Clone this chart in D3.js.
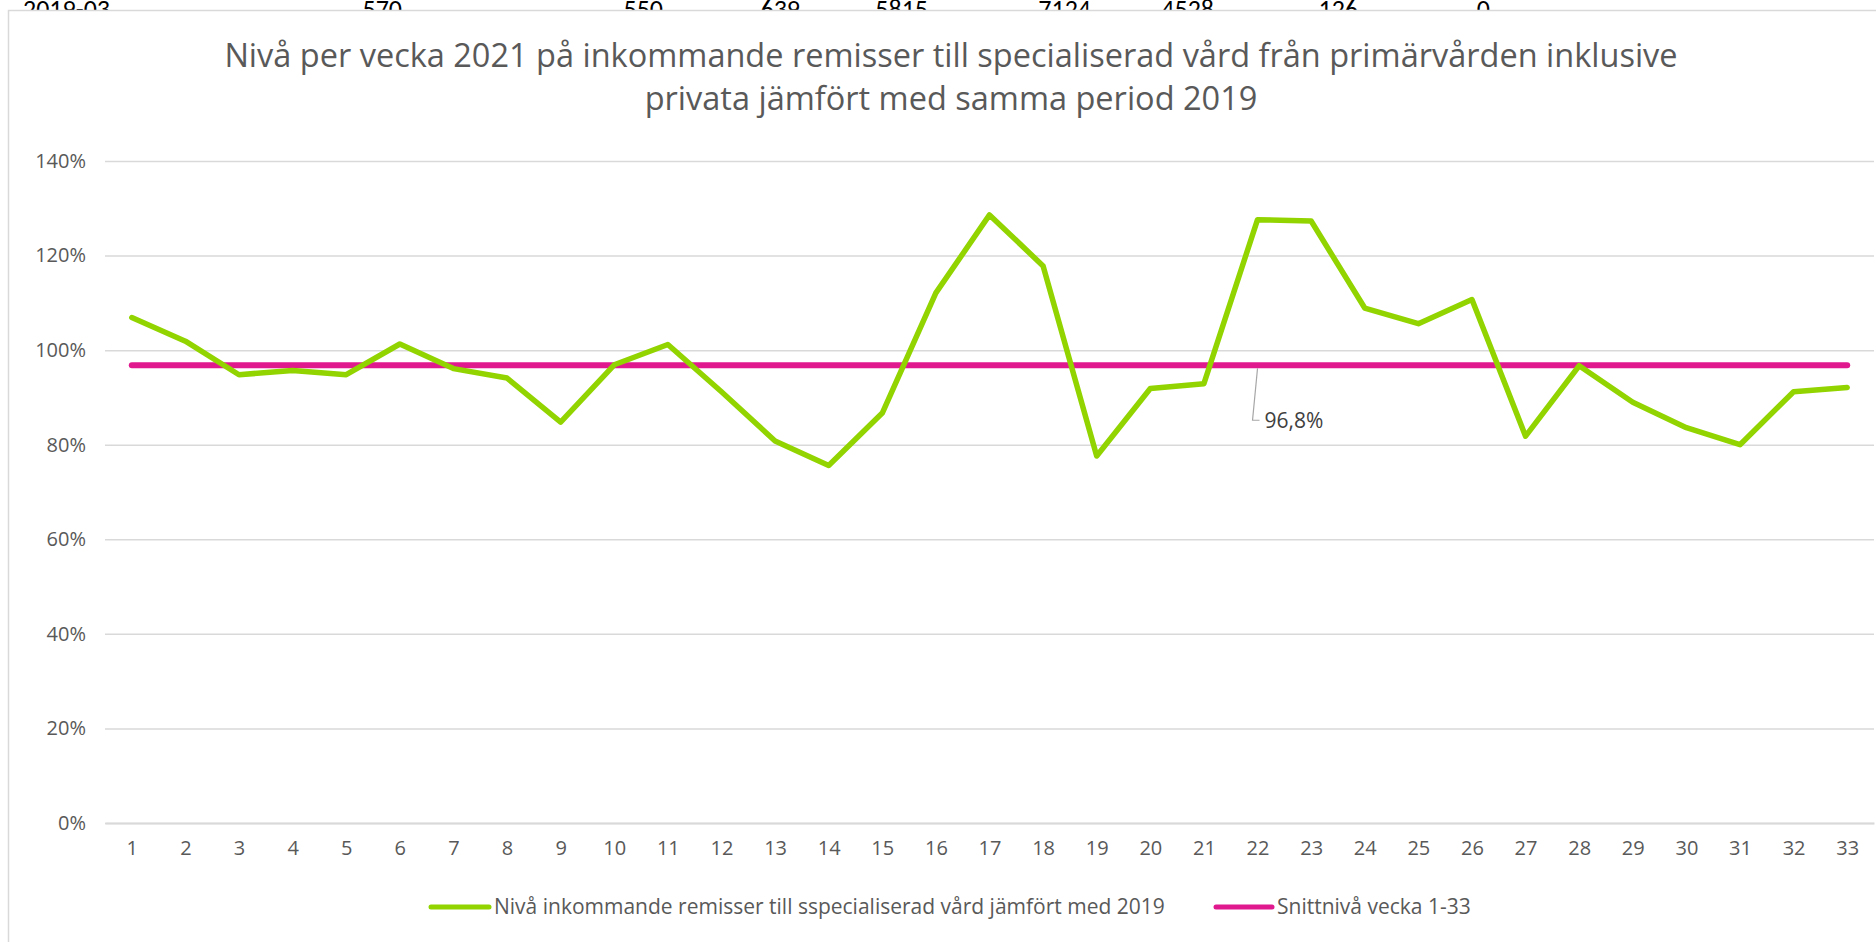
<!DOCTYPE html>
<html lang="sv">
<head>
<meta charset="UTF-8">
<title>Nivå per vecka 2021</title>
<script src="https://d3js.org/d3.v7.min.js"></script>
<style>
  body { margin: 0; background: #fff; }
  svg { display: block; font-family: "Open Sans", sans-serif; }
</style>
</head>
<body>
<script>
// veckor 1-33
const weeks = [1, 2, 3, 4, 5, 6, 7, 8, 9, 10, 11, 12, 13, 14, 15, 16, 17,
               18, 19, 20, 21, 22, 23, 24, 25, 26, 27, 28, 29, 30, 31, 32, 33];

// nivå 2021 jämfört med 2019 (andel)
const levels = [1.069, 1.019, 0.948, 0.957, 0.948, 1.013, 0.961, 0.941, 0.848,
                0.969, 1.012, 0.912, 0.808, 0.756, 0.867, 1.121, 1.286, 1.178,
                0.776, 0.919, 0.929, 1.276, 1.273, 1.089, 1.056, 1.107, 0.818,
                0.967, 0.890, 0.836, 0.800, 0.912, 0.921];

const avgLevel = 0.968;
const yTicks = [0, 0.2, 0.4, 0.6, 0.8, 1.0, 1.2, 1.4];

const seriesNames = ["Nivå inkommande remisser till sspecialiserad vård jämfört med 2019",
                     "Snittnivå vecka 1-33"];
const titleLines = ["Nivå per vecka 2021 på inkommande remisser till specialiserad vård från primärvården inklusive",
                    "privata jämfört med samma period 2019"];

// spreadsheet row peeking out above the chart
const sheetRow = ["2019-03", "570", "550", "639", "5815", "7124", "4528", "126", "0"];
const sheetRight = [110, 402, 663, 800, 928, 1091, 1214, 1358, 1490];

const width = 1876, height = 942;
const margin = { top: 161, right: 2, bottom: 119, left: 105 };

const green = "#92d400", pink = "#e0198f", grid = "#d9d9d9", txt = "#595959";

const svg = d3.select("body").append("svg")
  .attr("width", width).attr("height", height);

// cells behind chart
svg.append("g").selectAll("text")
  .data(sheetRow)
  .join("text")
  .attr("x", (d, i) => sheetRight[i])
  .attr("y", 18)
  .attr("text-anchor", "end")
  .style("font-family", "Carlito, 'Liberation Sans Narrow', 'Open Sans', sans-serif")
  .style("font-size", "26px")
  .style("fill", "#000")
  .text(d => d);

// chart frame
svg.append("rect")
  .attr("x", 8.5).attr("y", 10.5)
  .attr("width", width).attr("height", height)
  .style("fill", "#fff").style("stroke", grid).style("stroke-width", 1.5);

const x = d3.scalePoint()
  .domain(weeks)
  .range([margin.left, width - margin.right])
  .padding(0.5);

const y = d3.scaleLinear()
  .domain([0, 1.4])
  .range([height - margin.bottom, margin.top]);

// title
svg.append("g").selectAll("text")
  .data(titleLines)
  .join("text")
  .attr("x", 951)
  .attr("y", (d, i) => 67 + i * 43)
  .attr("text-anchor", "middle")
  .style("font-size", "32.5px")
  .style("fill", txt)
  .text(d => d);

// y axis + gridlines
const yAxis = svg.append("g")
  .attr("transform", `translate(${margin.left},0)`)
  .call(d3.axisLeft(y)
    .tickValues(yTicks)
    .tickSize(-(width - margin.left - margin.right))
    .tickPadding(19)
    .tickFormat(d3.format(".0%")));
yAxis.select(".domain").remove();
yAxis.selectAll("line").style("stroke", grid).style("stroke-width", 1.5);
yAxis.selectAll("text")
  .style("font-family", "'Open Sans', sans-serif")
  .style("font-size", "20px").style("fill", txt);

// x axis
const xAxis = svg.append("g")
  .attr("transform", `translate(0,${y(0)})`)
  .call(d3.axisBottom(x).tickSize(0).tickPadding(18));
xAxis.select(".domain").style("stroke", grid).style("stroke-width", 2);
xAxis.selectAll("text")
  .style("font-family", "'Open Sans', sans-serif")
  .style("font-size", "20px").style("fill", txt);

// average line
svg.append("path")
  .datum(weeks)
  .attr("d", d3.line().x(d => x(d)).y(() => y(avgLevel)))
  .style("fill", "none").style("stroke", pink)
  .style("stroke-width", 6).style("stroke-linecap", "round");

// level line
svg.append("path")
  .datum(levels)
  .attr("d", d3.line().x((d, i) => x(weeks[i])).y(d => y(d)))
  .style("fill", "none").style("stroke", green)
  .style("stroke-width", 5.5).style("stroke-linecap", "round")
  .style("stroke-linejoin", "round");

// data label for average
const lx = x(22), ly = y(avgLevel);
svg.append("path")
  .attr("d", `M${lx},${ly + 3}L${lx - 5},${ly + 55}L${lx + 2},${ly + 55}`)
  .style("fill", "none").style("stroke", "#a6a6a6").style("stroke-width", 1.2);
svg.append("text")
  .attr("x", lx + 7).attr("y", ly + 63)
  .style("font-size", "21px").style("fill", "#404040")
  .text(d3.format(".1%")(avgLevel).replace(".", ","));

// legend
const legend = svg.append("g").selectAll("g")
  .data(seriesNames)
  .join("g")
  .attr("transform", (d, i) => `translate(${[431, 1216][i]},907)`);
legend.append("line")
  .attr("x1", 0).attr("x2", (d, i) => [58, 56][i])
  .style("stroke", (d, i) => [green, pink][i])
  .style("stroke-width", 5).style("stroke-linecap", "round");
legend.append("text")
  .attr("x", (d, i) => [63, 61][i]).attr("y", 7)
  .style("font-size", "21px").style("fill", txt)
  .text(d => d);
</script>
</body>
</html>
